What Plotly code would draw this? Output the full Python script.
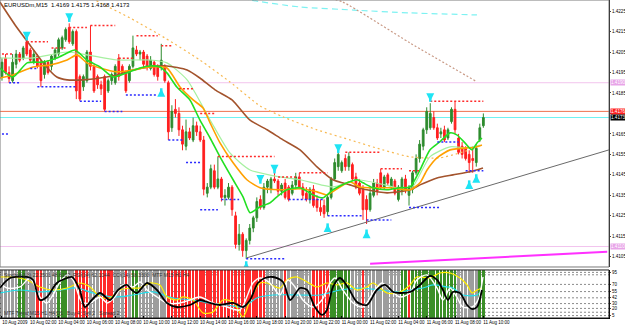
import plotly.graph_objects as go

# ---------------- data ----------------
title_text = "EURUSDm,M15  1.4169 1.4175 1.4168 1.4173"
time_label_bars = [0, 8, 16, 24, 32, 40, 48, 56, 64, 72, 80, 88, 96, 104, 112, 120, 128, 136]
time_labels = ["10 Aug 2009", "10 Aug 02:00", "10 Aug 04:00", "10 Aug 06:00", "10 Aug 08:00",
               "10 Aug 10:00", "10 Aug 12:00", "10 Aug 14:00", "10 Aug 16:00", "10 Aug 18:00",
               "10 Aug 20:00", "10 Aug 22:00", "11 Aug 00:00", "11 Aug 02:00", "11 Aug 04:00",
               "11 Aug 06:00", "11 Aug 08:00", "11 Aug 10:00"]
price_ticks = [1.4105, 1.4115, 1.4125, 1.4135, 1.4145, 1.4155, 1.4165, 1.4175, 1.4185,
               1.4195, 1.4205, 1.4215, 1.4225]

opens = [1.4193, 1.4202, 1.4195, 1.4191, 1.4199, 1.4204, 1.4202, 1.4210, 1.4206, 1.4200,
         1.4203, 1.4200, 1.4194, 1.4200, 1.4198, 1.4202, 1.4204, 1.4207, 1.4211, 1.4217,
         1.4209, 1.4215, 1.4193, 1.4188, 1.4191, 1.4205, 1.4198, 1.4193, 1.4189, 1.4193,
         1.4186, 1.4191, 1.4190, 1.4202, 1.4198, 1.4195, 1.4191, 1.4198, 1.4206, 1.4204,
         1.4205, 1.4203, 1.4197, 1.4200, 1.4198, 1.4198, 1.4198, 1.4190, 1.4168, 1.4177,
         1.4175, 1.4167, 1.4159, 1.4166, 1.4162, 1.4169, 1.4166, 1.4162, 1.4136, 1.4139,
         1.4147, 1.4139, 1.4143, 1.4134, 1.4134, 1.4139, 1.4125, 1.4111, 1.4116, 1.4108,
         1.4113, 1.4119, 1.4124, 1.4133, 1.4129, 1.4139, 1.4138, 1.4143, 1.4142, 1.4137,
         1.4141, 1.4139, 1.4136, 1.4140, 1.4144, 1.4139, 1.4136, 1.4133, 1.4138, 1.4133,
         1.4129, 1.4130, 1.4127, 1.4134, 1.4143, 1.4149, 1.4147, 1.4153, 1.4149, 1.4150,
         1.4144, 1.4141, 1.4138, 1.4133, 1.4128, 1.4135, 1.4141, 1.4146, 1.4139, 1.4145,
         1.4139, 1.4142, 1.4133, 1.4137, 1.4143, 1.4135, 1.4138, 1.4146, 1.4153, 1.4159,
         1.4167, 1.4168, 1.4173, 1.4168, 1.4165, 1.4167, 1.4163, 1.4171, 1.4177, 1.4163,
         1.4159, 1.4158, 1.4155, 1.4153, 1.4151, 1.4162, 1.4169]
highs = [1.4202, 1.4204, 1.4198, 1.4204, 1.4206, 1.4205, 1.4208, 1.4211, 1.4207, 1.4206,
         1.4204, 1.4201, 1.4201, 1.4201, 1.4204, 1.4207, 1.4212, 1.4213, 1.4217, 1.4219,
         1.4216, 1.4216, 1.4194, 1.4194, 1.4206, 1.4218, 1.4199, 1.4194, 1.4191, 1.4194,
         1.4192, 1.4195, 1.4199, 1.4204, 1.4199, 1.4196, 1.4199, 1.4213, 1.4208, 1.4206,
         1.4206, 1.4204, 1.4203, 1.4201, 1.4199, 1.4209, 1.4199, 1.4191, 1.4179, 1.4182,
         1.4178, 1.4169, 1.4172, 1.4168, 1.4173, 1.4171, 1.4169, 1.4164, 1.4141, 1.4150,
         1.4150, 1.4154, 1.4144, 1.4138, 1.4141, 1.4140, 1.4127, 1.4121, 1.4117, 1.4114,
         1.4121, 1.4125, 1.4134, 1.4135, 1.4141, 1.4143, 1.4144, 1.4146, 1.4143, 1.4141,
         1.4143, 1.4140, 1.4142, 1.4146, 1.4146, 1.4141, 1.4139, 1.4139, 1.4140, 1.4135,
         1.4133, 1.4133, 1.4135, 1.4144, 1.4153, 1.4157, 1.4152, 1.4155, 1.4156, 1.4151,
         1.4146, 1.4143, 1.4140, 1.4135, 1.4139, 1.4143, 1.4143, 1.4148, 1.4145, 1.4146,
         1.4144, 1.4143, 1.4140, 1.4144, 1.4145, 1.4140, 1.4147, 1.4155, 1.4162, 1.4168,
         1.4178, 1.4180, 1.4176, 1.4170, 1.4168, 1.4169, 1.4168, 1.4178, 1.4181, 1.4165,
         1.4161, 1.4159, 1.4157, 1.4159, 1.4160, 1.4170, 1.4175]
lows = [1.4191, 1.4194, 1.4190, 1.4190, 1.4197, 1.4200, 1.4201, 1.4203, 1.4200, 1.4199,
        1.4197, 1.4188, 1.4192, 1.4194, 1.4196, 1.4201, 1.4203, 1.4206, 1.4210, 1.4209,
        1.4208, 1.4182, 1.4181, 1.4186, 1.4190, 1.4196, 1.4185, 1.4187, 1.4184, 1.4176,
        1.4185, 1.4189, 1.4189, 1.4191, 1.4194, 1.4185, 1.4190, 1.4197, 1.4203, 1.4201,
        1.4197, 1.4196, 1.4196, 1.4193, 1.4191, 1.4196, 1.4190, 1.4162, 1.4166, 1.4173,
        1.4164, 1.4157, 1.4157, 1.4162, 1.4161, 1.4164, 1.4161, 1.4135, 1.4134, 1.4138,
        1.4138, 1.4138, 1.4132, 1.4130, 1.4133, 1.4125, 1.4109, 1.4108, 1.4105, 1.4104,
        1.4111, 1.4117, 1.4122, 1.4128, 1.4128, 1.4136, 1.4136, 1.4141, 1.4135, 1.4135,
        1.4133, 1.4132, 1.4135, 1.4138, 1.4138, 1.4133, 1.4132, 1.4131, 1.4129, 1.4127,
        1.4125, 1.4124, 1.4125, 1.4133, 1.4142, 1.4147, 1.4146, 1.4147, 1.4147, 1.4142,
        1.4138, 1.4135, 1.4123, 1.4121, 1.4127, 1.4134, 1.4135, 1.4138, 1.4138, 1.4140,
        1.4138, 1.4135, 1.4132, 1.4135, 1.4136, 1.4130, 1.4136, 1.4145, 1.4151, 1.4157,
        1.4165, 1.4167, 1.4167, 1.4162, 1.4163, 1.4161, 1.4162, 1.4170, 1.4165, 1.4155,
        1.4153, 1.4152, 1.4146, 1.4146, 1.4149, 1.4161, 1.4168]
closes = [1.4200, 1.4195, 1.4192, 1.4200, 1.4204, 1.4201, 1.4207, 1.4204, 1.4201, 1.4204,
          1.4198, 1.4191, 1.4200, 1.4195, 1.4203, 1.4206, 1.4211, 1.4212, 1.4216, 1.4210,
          1.4215, 1.4186, 1.4182, 1.4193, 1.4205, 1.4198, 1.4186, 1.4189, 1.4187, 1.4177,
          1.4191, 1.4194, 1.4198, 1.4193, 1.4195, 1.4186, 1.4198, 1.4207, 1.4204, 1.4205,
          1.4199, 1.4198, 1.4201, 1.4194, 1.4193, 1.4201, 1.4191, 1.4166, 1.4176, 1.4175,
          1.4167, 1.4160, 1.4166, 1.4163, 1.4169, 1.4166, 1.4162, 1.4138, 1.4139, 1.4148,
          1.4139, 1.4143, 1.4134, 1.4135, 1.4139, 1.4128, 1.4111, 1.4116, 1.4108, 1.4113,
          1.4119, 1.4124, 1.4132, 1.4129, 1.4139, 1.4142, 1.4143, 1.4142, 1.4137, 1.4140,
          1.4134, 1.4133, 1.4140, 1.4144, 1.4139, 1.4135, 1.4133, 1.4138, 1.4130, 1.4129,
          1.4127, 1.4126, 1.4134, 1.4143, 1.4151, 1.4155, 1.4151, 1.4149, 1.4154, 1.4143,
          1.4139, 1.4136, 1.4128, 1.4128, 1.4136, 1.4141, 1.4137, 1.4139, 1.4144, 1.4141,
          1.4143, 1.4136, 1.4139, 1.4143, 1.4138, 1.4139, 1.4146, 1.4153, 1.4160, 1.4167,
          1.4176, 1.4175, 1.4168, 1.4163, 1.4166, 1.4162, 1.4167, 1.4177, 1.4167, 1.4156,
          1.4155, 1.4153, 1.4151, 1.4152, 1.4158, 1.4168, 1.4173]

# moving averages (bar index, price)
ma_brown_idx = [-0.6, 3.7, 7.9, 12.1, 15.5, 18.4, 22.9, 27.7, 32.5, 37.0, 41.8, 46.6, 52.3, 55.9, 60.2,
                65.0, 70.0, 74.9, 79.4, 84.2, 89.0, 93.5, 98.3, 103.1, 108.8, 115.3, 118.1, 122.9,
                127.4, 132.2, 135.9]
ma_brown_val = [1.42294, 1.42182, 1.42084, 1.41987, 1.41928, 1.41914, 1.41914, 1.41923, 1.41938,
                1.41962, 1.41977, 1.41982, 1.41962, 1.41923, 1.41865, 1.41816, 1.41718, 1.41670,
                1.41621, 1.41572, 1.41489, 1.41426, 1.41401, 1.41377, 1.41362, 1.41377, 1.41401,
                1.41435, 1.41450, 1.41465, 1.41484]
ma_orange_idx = [-0.6, 3.1, 8.8, 13.6, 18.4, 21.2, 24.0, 27.7, 32.5, 37.0, 41.8, 46.6, 50.3, 54.0,
                 56.8, 58.8, 61.6, 65.3, 69.2, 72.9, 78.5, 84.2, 89.0, 91.8, 95.5, 98.3, 101.1,
                 105.9, 109.6, 115.3, 118.1, 120.1, 122.9, 126.6, 131.4, 133.1, 135.6]
ma_orange_val = [1.41923, 1.41938, 1.41977, 1.41987, 1.42011, 1.42036, 1.41997, 1.41972, 1.41953,
                 1.41962, 1.41977, 1.41972, 1.41879, 1.41816, 1.41777, 1.41704, 1.41606, 1.41509,
                 1.41426, 1.41387, 1.41377, 1.41382, 1.41367, 1.41352, 1.41391, 1.41416, 1.41391,
                 1.41387, 1.41387, 1.41377, 1.41411, 1.41474, 1.41533, 1.41572, 1.41582, 1.41582,
                 1.41596]
ma_green_idx = [-0.6, 3.1, 7.1, 11.6, 15.5, 18.4, 20.6, 24.0, 27.7, 31.4, 35.3, 39.0, 41.8, 44.6,
                46.6, 49.4, 53.1, 55.9, 58.8, 61.6, 65.3, 68.1, 70.1, 72.9, 75.7, 77.7, 80.5, 84.2,
                87.9, 90.7, 93.5, 97.5, 100.3, 102.0, 104.8, 108.8, 112.4, 115.3, 118.1, 120.9,
                123.7, 126.6, 128.5, 130.8, 132.8, 134.2, 135.6]
ma_green_val = [1.41972, 1.41928, 1.41997, 1.42001, 1.42021, 1.42045, 1.42060, 1.42011, 1.41977,
                1.41928, 1.41948, 1.41972, 1.41982, 1.41977, 1.41948, 1.41879, 1.41816, 1.41718,
                1.41630, 1.41538, 1.41426, 1.41343, 1.41265, 1.41294, 1.41313, 1.41343, 1.41377,
                1.41387, 1.41352, 1.41338, 1.41377, 1.41411, 1.41426, 1.41411, 1.41387, 1.41377,
                1.41387, 1.41391, 1.41474, 1.41572, 1.41611, 1.41655, 1.41645, 1.41606, 1.41572,
                1.41606, 1.41630]
ma_lgreen_idx = [-0.6, 8.8, 18.4, 24.0, 32.5, 41.8, 46.6, 52.3, 58.8, 64.4, 70.1, 78.5, 84.2, 93.5,
                 100.3, 108.2, 115.3, 120.9, 126.6, 131.4, 135.0]
ma_lgreen_val = [1.42021, 1.42021, 1.42050, 1.42036, 1.42011, 1.42011, 1.41997, 1.41914, 1.41718,
                 1.41557, 1.41474, 1.41440, 1.41426, 1.41391, 1.41426, 1.41401, 1.41377, 1.41538,
                 1.41587, 1.41582, 1.41596]
ma_tan_idx = [22.0, 26.3, 36.2, 46.0, 55.9, 64.4, 72.9, 79.4, 89.0, 98.3, 107.6, 115.3, 123.7, 132.2]
ma_tan_val = [1.42353, 1.42304, 1.42216, 1.42119, 1.42011, 1.41904, 1.41787, 1.41733, 1.41670,
              1.41621, 1.41572, 1.41538, 1.41533, 1.41572]
ma_rosy_idx = [92.0, 96.3, 115.3, 134.2]
ma_rosy_val = [1.42315, 1.42294, 1.42094, 1.41904]
ma_cyan_idx = [68.0, 70.1, 84.2, 99.2, 115.3, 134.2]
ma_cyan_val = [1.42315, 1.42304, 1.42270, 1.42255, 1.42241, 1.42231]

# trend lines (two anchor points each)
trend_idx = [69.2, 171.5]
trend_val = [1.41045, 1.41572]
magenta_idx = [104.0, 171.0]
magenta_val = [1.41016, 1.41074]

# dotted fractal levels: start bar, end bar, price
res_start = [0, 7, 14, 19, 25, 33, 38, 45, 50, 56, 61, 78, 84, 97, 107, 115, 121]
res_end = [3, 13, 18, 24, 32, 37, 44, 48, 54, 60, 77, 83, 92, 107, 113, 118, 136]
res_level = [1.4204, 1.4210, 1.4207, 1.4217, 1.4218, 1.4202, 1.4213, 1.4208, 1.4187, 1.4175,
             1.4154, 1.4144, 1.4146, 1.4156, 1.4148, 1.4147, 1.4181]
sup_start = [0, 2, 8, 10, 22, 29, 35, 47, 52, 56, 62, 69, 81, 92, 103, 115, 123, 131]
sup_end = [2, 5, 10, 21, 28, 34, 44, 51, 56, 61, 67, 80, 91, 102, 110, 124, 129, 136]
sup_level = [1.4165, 1.4190, 1.4197, 1.4188, 1.4181, 1.4176, 1.4184, 1.4162, 1.4151, 1.4128,
             1.4133, 1.4104, 1.4133, 1.4125, 1.4123, 1.4129, 1.4161, 1.4147]

# fractal arrows
arrow_dn_idx = [7, 19, 73, 77, 95, 121]
arrow_dn_val = [1.4211, 1.4220, 1.4141, 1.4146, 1.4156, 1.4181]
arrow_up_idx = [45, 69, 92, 103, 132, 134]
arrow_up_val = [1.4187, 1.41025, 1.4121, 1.4118, 1.4142, 1.4145]

# horizontal price lines
line_pink_hi = 1.4190
line_red = 1.4176
line_cyan = 1.4173
line_pink_lo = 1.4110

# lower panel: background state runs (n = neutral, g = up, r = down)
state_runs = [("n", 5), ("g", 2), ("n", 3), ("r", 2), ("n", 4), ("g", 3), ("n", 2), ("r", 4),
              ("n", 3), ("r", 4), ("n", 3), ("r", 1), ("n", 1), ("g", 2), ("n", 8), ("r", 28),
              ("n", 5), ("r", 1), ("n", 7), ("r", 5), ("g", 6), ("n", 3), ("r", 1), ("n", 10),
              ("g", 2), ("r", 1), ("g", 13), ("n", 6), ("g", 2)]
osc_levels = [95, 90, 70, 55, 42, 30, 20, 12, 5]
osc_labels = [95, 70, 55, 42, 30, 20, 5]

osc_black_idx = [-0.6, 2.3, 7.1, 8.8, 10.7, 12.7, 15.5, 18.4, 19.8, 22.0, 23.4, 25.4, 27.7, 30.5,
                 32.8, 35.3, 36.7, 38.1, 41.0, 43.8, 46.6, 49.4, 53.1, 55.9, 58.8, 61.6, 65.3,
                 68.1, 70.1, 72.3, 74.3, 76.6, 79.4, 81.4, 84.2, 86.2, 88.4, 90.4, 91.8, 93.5,
                 95.5, 97.7, 100.3, 103.1, 105.9, 108.2, 110.5, 112.4, 115.3, 118.1, 120.9,
                 122.9, 124.6, 126.0, 127.4, 129.4, 131.4, 132.8, 134.2, 135.6]
osc_black_val = [62.5, 83.3, 85.4, 79.2, 37.5, 43.8, 72.9, 83.3, 85.4, 58.3, 22.9, 37.5, 52.1, 37.5,
                 58.3, 68.8, 58.3, 52.1, 72.9, 58.3, 31.3, 22.9, 27.1, 37.5, 31.3, 27.1, 31.3,
                 22.9, 37.5, 72.9, 83.3, 85.4, 75.0, 37.5, 62.5, 58.3, 22.9, 6.3, 16.7, 64.6,
                 83.3, 64.6, 33.3, 27.1, 58.3, 68.8, 54.2, 52.1, 54.2, 68.8, 87.5, 79.2, 58.3,
                 37.5, 54.2, 52.1, 27.1, 18.8, 22.9, 58.3]
osc_white_idx = [-0.6, 1.4, 5.1, 7.9, 10.7, 12.7, 14.4, 16.4, 18.4, 20.1, 22.6, 24.9, 27.7, 29.7,
                 31.9, 34.2, 37.0, 39.0, 41.0, 43.8, 46.6, 50.3, 53.1, 55.9, 59.6, 63.6, 67.2,
                 70.9, 72.9, 75.7, 78.5, 80.8, 82.8, 85.0, 87.9, 90.4, 92.7, 94.1, 96.3, 99.2,
                 102.0, 104.8, 107.3, 109.6, 112.4, 115.3, 117.2, 120.1, 122.9, 124.6, 126.6,
                 128.5, 130.2, 132.8, 134.5, 135.9]
osc_white_val = [72.9, 62.5, 64.6, 83.3, 43.8, 31.3, 47.9, 75.0, 89.6, 79.2, 33.3, 31.3, 43.8, 31.3,
                 43.8, 68.8, 64.6, 75.0, 58.3, 43.8, 31.3, 31.3, 37.5, 43.8, 31.3, 22.9, 16.7,
                 72.9, 83.3, 72.9, 47.9, 79.2, 64.6, 37.5, 22.9, 37.5, 72.9, 83.3, 58.3, 31.3,
                 22.9, 52.1, 72.9, 58.3, 43.8, 52.1, 79.2, 89.6, 62.5, 37.5, 62.5, 43.8, 22.9,
                 22.9, 37.5, 85.4]
osc_yellow_idx = [-0.6, 3.1, 7.1, 10.7, 14.4, 18.4, 22.0, 24.9, 27.7, 30.5, 33.3, 36.2, 39.0, 41.8,
                  44.6, 46.6, 49.4, 51.1, 54.0, 56.8, 59.6, 62.4, 65.3, 68.1, 70.1, 72.9, 74.9,
                  78.5, 80.5, 83.3, 86.2, 89.0, 91.8, 94.6, 97.5, 100.3, 103.1, 104.8, 108.8,
                  112.4, 115.3, 117.2, 120.9, 123.7, 126.6, 129.4, 131.4, 132.8, 134.2, 135.6]
osc_yellow_val = [85.4, 85.4, 79.2, 64.6, 58.3, 62.5, 72.9, 64.6, 43.8, 41.7, 58.3, 62.5, 62.5, 72.9,
                  68.8, 43.8, 37.5, 43.8, 37.5, 10.4, 12.5, 37.5, 33.3, 2.1, 37.5, 72.9, 72.9,
                  62.5, 79.2, 85.4, 75.0, 64.6, 72.9, 68.8, 72.9, 58.3, 64.6, 72.9, 52.1, 54.2,
                  68.8, 85.4, 83.3, 93.8, 93.8, 83.3, 68.8, 52.1, 58.3, 62.5]
osc_cyan_idx = [-0.6, 5.1, 10.7, 16.4, 21.2, 25.7, 31.4, 37.0, 42.7, 48.3, 54.0, 58.8, 63.6, 68.1,
                72.0, 76.6, 84.2, 89.8, 95.5, 101.1, 106.8, 112.4, 115.3, 118.9, 121.8, 125.7,
                127.4, 130.2, 134.2, 135.6]
osc_cyan_val = [52.1, 58.3, 54.2, 58.3, 62.5, 52.1, 43.8, 47.9, 54.2, 41.7, 37.5, 31.3, 27.1, 22.9,
                41.7, 47.9, 47.9, 47.9, 58.3, 62.5, 58.3, 54.2, 58.3, 62.5, 68.8, 64.6, 62.5,
                47.9, 47.9, 58.3]

# ---------------- figure ----------------
N = len(closes)
bars = list(range(N))
state_color = {"n": "#9d9d9d", "g": "#3b8f27", "r": "#ff2a2a"}
bg_colors = []
for s, k in state_runs:
    bg_colors += [state_color[s]] * k

FONT = "Liberation Sans, Arial, sans-serif"
MAIN_DOM = [0.1604, 1.0]
LOW_DOM = [0.0, 0.151]
PIP = 0.0001

fig = go.Figure()

fig.add_trace(go.Bar(x=bars, y=[100] * N, marker=dict(color=bg_colors, line=dict(width=0)),
                     width=0.76, xaxis="x", yaxis="y2", hoverinfo="skip"))

def osc(xs, ys, color, w):
    fig.add_trace(go.Scatter(x=xs, y=ys, mode="lines", xaxis="x", yaxis="y2",
                             line=dict(color=color, width=w, shape="spline", smoothing=0.8),
                             hoverinfo="skip"))

osc(osc_cyan_idx, osc_cyan_val, "#22e0ee", 1.2)
osc(osc_yellow_idx, osc_yellow_val, "#ffee00", 1.2)
osc(osc_white_idx, osc_white_val, "#ffffff", 1.4)
osc(osc_black_idx, osc_black_val, "#000000", 1.8)

def ma(xs, ys, color, w, dash="solid"):
    fig.add_trace(go.Scatter(x=xs, y=ys, mode="lines", xaxis="x", yaxis="y",
                             line=dict(color=color, width=w, dash=dash, shape="spline", smoothing=0.6),
                             hoverinfo="skip"))

ma(ma_cyan_idx, ma_cyan_val, "#7ef2f2", 1.2, "6px,4px")
ma(ma_rosy_idx, ma_rosy_val, "#c99a86", 1.2, "2px,2px")
ma(ma_tan_idx, ma_tan_val, "#f7b850", 1.2, "2px,3px")

fig.add_trace(go.Scatter(x=trend_idx, y=trend_val, mode="lines", xaxis="x", yaxis="y",
                         line=dict(color="#6a6a6a", width=1), hoverinfo="skip"))
fig.add_trace(go.Scatter(x=magenta_idx, y=magenta_val, mode="lines", xaxis="x", yaxis="y",
                         line=dict(color="#ff30ff", width=2), hoverinfo="skip"))

fig.add_trace(go.Candlestick(x=bars, open=opens, high=highs, low=lows, close=closes,
                             xaxis="x", yaxis="y", whiskerwidth=0,
                             increasing=dict(line=dict(color="#2e8b2e", width=1), fillcolor="#2e8b2e"),
                             decreasing=dict(line=dict(color="#ff1f1f", width=1), fillcolor="#ff1f1f"),
                             hoverinfo="skip"))

ma(ma_lgreen_idx, ma_lgreen_val, "#a6f0a0", 1.2)
ma(ma_brown_idx, ma_brown_val, "#a3532c", 1.6)
ma(ma_orange_idx, ma_orange_val, "#ffa000", 1.6)
ma(ma_green_idx, ma_green_val, "#22e022", 1.6)

def segs(starts, ends, levels):
    xs, ys = [], []
    for a, b, v in zip(starts, ends, levels):
        xs += [a, b, None]
        ys += [v, v, None]
    return xs, ys

rx, ry = segs(res_start, res_end, res_level)
fig.add_trace(go.Scatter(x=rx, y=ry, mode="lines", xaxis="x", yaxis="y",
                         line=dict(color="#ff2b2b", width=1.5, dash="2px,2px"), hoverinfo="skip"))
sx, sy = segs(sup_start, sup_end, sup_level)
fig.add_trace(go.Scatter(x=sx, y=sy, mode="lines", xaxis="x", yaxis="y",
                         line=dict(color="#2b2bff", width=1.5, dash="2px,2px"), hoverinfo="skip"))

ARROW_C = "#1fe4f4"
fig.add_trace(go.Scatter(x=arrow_dn_idx, y=[v + 1.4 * PIP for v in arrow_dn_val], mode="markers",
                         xaxis="x", yaxis="y", hoverinfo="skip",
                         marker=dict(symbol="line-ns", size=5, line=dict(color=ARROW_C, width=2.5))))
fig.add_trace(go.Scatter(x=arrow_dn_idx, y=arrow_dn_val, mode="markers", xaxis="x", yaxis="y",
                         marker=dict(symbol="arrow-down", size=8, color=ARROW_C), hoverinfo="skip"))
fig.add_trace(go.Scatter(x=arrow_up_idx, y=[v - 1.4 * PIP for v in arrow_up_val], mode="markers",
                         xaxis="x", yaxis="y", hoverinfo="skip",
                         marker=dict(symbol="line-ns", size=5, line=dict(color=ARROW_C, width=2.5))))
fig.add_trace(go.Scatter(x=arrow_up_idx, y=arrow_up_val, mode="markers", xaxis="x", yaxis="y",
                         marker=dict(symbol="arrow-up", size=8, color=ARROW_C), hoverinfo="skip"))

shapes = []
for v, c in [(line_pink_hi, "#f2c4ee"), (line_red, "#f0704e"),
             (line_cyan, "#6ef2f2"), (line_pink_lo, "#f2c4ee")]:
    shapes.append(dict(type="line", xref="paper", yref="y", x0=0, x1=1, y0=v, y1=v,
                       line=dict(color=c, width=1), layer="below"))
for lv in osc_levels:
    shapes.append(dict(type="line", xref="paper", yref="y2", x0=0, x1=1, y0=lv, y1=lv,
                       line=dict(color="#8a8a8a", width=1, dash="2px,2px"), layer="below"))
shapes.append(dict(type="rect", xref="paper", yref="paper", x0=0, x1=1, y0=MAIN_DOM[0], y1=MAIN_DOM[1],
                   line=dict(color="#7a7a7a", width=1)))
shapes.append(dict(type="rect", xref="paper", yref="paper", x0=0, x1=1, y0=LOW_DOM[0], y1=LOW_DOM[1],
                   line=dict(color="#202020", width=1)))

annotations = [
    dict(text=title_text, x=0.004, y=1, xref="paper", yref="paper", xanchor="left", yanchor="top",
         showarrow=False, font=dict(family=FONT, size=6, color="#000000")),
    dict(text="Stoch(8,3,3) 22.3501 48.6102  RSI(14) 62.1044  CCI(14) 58.3300  MTF M15 H1 H4",
         x=0.004, y=LOW_DOM[1], xref="paper", yref="paper", xanchor="left", yanchor="top",
         showarrow=False, font=dict(family=FONT, size=5, color="#333333")),
    dict(text="MTF Trend M15 H1 H4 D1   Buy 4  Sell 2   Spread 2",
         x=0.004, y=0.0, xref="paper", yref="paper", xanchor="left", yanchor="bottom",
         showarrow=False, font=dict(family=FONT, size=5, color="#333333")),
]
for v, bg, fc in [(line_pink_hi, "#e8a4e8", "#ffffff"), (line_red, "#ff2020", "#ffffff"),
                  (line_cyan, "#000000", "#ffffff"), (line_pink_lo, "#e8a4e8", "#ffffff")]:
    annotations.append(dict(text=f"{v:.4f}", x=1, y=v, xref="paper", yref="y", xanchor="left",
                            yanchor="middle", xshift=1, showarrow=False, bgcolor=bg, borderpad=0,
                            font=dict(family=FONT, size=4.6, color=fc)))

# tick labels hidden under the price boxes (as in the terminal)
main_tick_text = [("" if abs(t - line_red) < 0.0004 else f"{t:.4f}") for t in price_ticks]

fig.update_layout(
    width=625, height=327, margin=dict(l=0, r=16, t=0, b=9),
    paper_bgcolor="white", plot_bgcolor="white", showlegend=False,
    bargap=0, shapes=shapes, annotations=annotations,
    xaxis=dict(domain=[0, 1], anchor="y2", range=[-0.56, 171.5], tickmode="array",
               tickvals=time_label_bars, ticktext=time_labels, tickangle=0, ticks="inside", ticklen=2,
               tickcolor="#000000", ticklabelshift=13, ticklabelstandoff=0, ticklabeloverflow="allow",
               tickfont=dict(family=FONT, size=4.5, color="#000000"), showgrid=False, zeroline=False,
               showline=True, linecolor="#000000", linewidth=1, rangeslider=dict(visible=False),
               automargin=False, fixedrange=True),
    yaxis=dict(domain=MAIN_DOM, anchor="x", side="right", range=[1.4100, 1.42304], tickmode="array",
               tickvals=price_ticks, ticktext=main_tick_text, ticks="outside",
               ticklen=1, ticklabelstandoff=0, tickfont=dict(family=FONT, size=4.6, color="#000000"),
               showgrid=False, zeroline=False, showline=True, linecolor="#000000", linewidth=1,
               automargin=False),
    yaxis2=dict(domain=LOW_DOM, anchor="x", side="right", range=[0, 100], tickmode="array",
                tickvals=osc_labels, ticktext=[str(v) for v in osc_labels], ticks="outside",
                ticklen=1, ticklabelstandoff=0, tickfont=dict(family=FONT, size=4.5, color="#000000"),
                showgrid=False, zeroline=False, showline=True, linecolor="#000000", linewidth=1,
                automargin=False),
)

fig.write_html("out.html")
